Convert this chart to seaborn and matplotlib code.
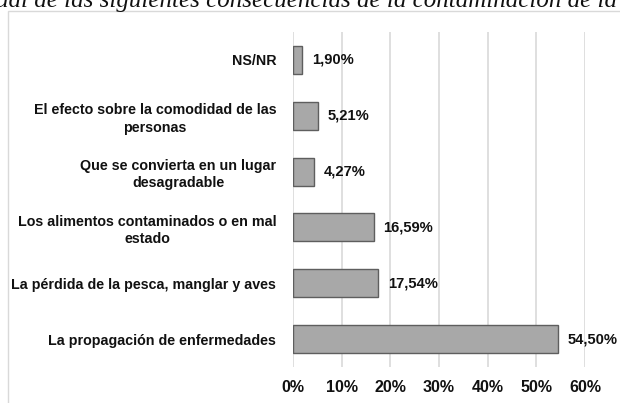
import matplotlib
matplotlib.use("Agg")
import matplotlib.pyplot as plt
import seaborn as sns
import pandas as pd
from matplotlib.patches import Rectangle

categories = [
    "NS/NR",
    "El efecto sobre la comodidad de las\npersonas",
    "Que se convierta en un lugar\ndesagradable",
    "Los alimentos contaminados o en mal\nestado",
    "La pérdida de la pesca, manglar y aves",
    "La propagación de enfermedades",
]
values = [1.90, 5.21, 4.27, 16.59, 17.54, 54.50]
value_labels = ["1,90%", "5,21%", "4,27%", "16,59%", "17,54%", "54,50%"]
xticks = [0, 10, 20, 30, 40, 50, 60]
xtick_labels = ["0%", "10%", "20%", "30%", "40%", "50%", "60%"]
title_text = "uál de las siguientes consecuencias de la contaminación de la"

df = pd.DataFrame({"cat": categories, "val": values})

sns.set_theme(style="white")
plt.rcParams['font.family'] = ['Liberation Sans', 'DejaVu Sans']

fig = plt.figure(figsize=(6.2, 4.03), dpi=100)
W, H = 620, 403
ax = fig.add_axes([293 / W, 1 - 367 / H, (585 - 293) / W, (367 - 32) / H])

sns.barplot(data=df, y="cat", x="val", order=categories, orient="h",
            color="#a8a8a8", edgecolor="#5e5e5e", linewidth=1.0,
            width=0.5, saturation=1, ax=ax, zorder=3)

ax.set_xlim(0, 60)
ax.set_xticks(xticks)
ax.set_xticklabels(xtick_labels, fontweight="bold", fontsize=11.5, color="#111111")
ax.set_yticklabels(categories, fontweight="bold", fontsize=10.3, color="#111111",
                   multialignment="center", linespacing=1.3)
ax.tick_params(axis="x", length=0, pad=9)
ax.tick_params(axis="y", length=0, pad=12)
ax.set_xlabel("")
ax.set_ylabel("")
for s in ax.spines.values():
    s.set_visible(False)
ax.grid(axis="x", color="#d9d9d9", linewidth=1.2, zorder=0)
ax.set_axisbelow(True)

for i, (v, lab) in enumerate(zip(values, value_labels)):
    ax.annotate(lab, (v, i), xytext=(7, 0), textcoords="offset points",
                va="center", ha="left", fontweight="bold", fontsize=10.6,
                color="#111111")

fig.patches.append(Rectangle((7.5 / W, -0.1), 1.2, 1 - 10.5 / H + 0.1,
                             transform=fig.transFigure, fill=False,
                             edgecolor="#d9d9d9", linewidth=1.0))

fig.text(-4 / W, 1 - 7 / H, title_text, fontsize=18, style="italic",
         family=["Liberation Serif", "DejaVu Serif"], ha="left",
         va="baseline", color="#111111")

fig.savefig("out.png", dpi=100)
